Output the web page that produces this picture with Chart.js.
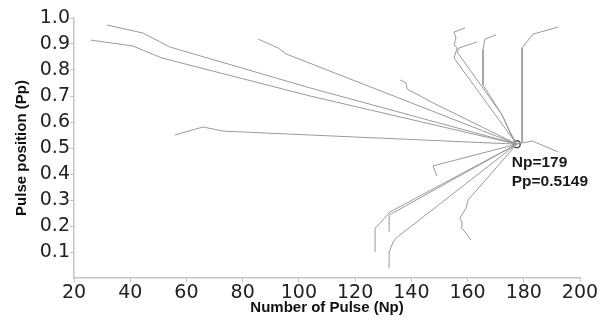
<!DOCTYPE html>
<html>
<head>
<meta charset="utf-8">
<script src="https://cdn.jsdelivr.net/npm/chart.js@4/dist/chart.umd.min.js"></script>
<style>
	html, body { margin: 0; padding: 0; background: #fff; }
	#wrap { width: 607px; height: 320px; }
</style>
</head>
<body>
<div id="wrap"><canvas id="pulseChart" width="607" height="320"></canvas></div>
<script>
// axis ticks
const xTicks = [20, 40, 60, 80, 100, 120, 140, 160, 180, 200];
const yTicks = [0.1, 0.2, 0.3, 0.4, 0.5, 0.6, 0.7, 0.8, 0.9, 1.0];

// convergence point (Np, Pp)
const peak = [177.5, 0.5149];
const peakLabel = ['Np=179', 'Pp=0.5149'];

// trajectories [Np, Pp], each ends at the peak
const pathA = [[31.7, 0.973], [44.6, 0.942], [54.2, 0.888], [104, 0.731]];
const pathB = [[26.0, 0.915], [41.0, 0.892], [51.3, 0.846], [104, 0.70]];
const pathC = [[85.5, 0.919], [92.6, 0.885], [95.4, 0.862]];
const pathD = [[136.0, 0.762], [138.1, 0.75], [138.5, 0.727], [147.8, 0.673]];
const pathG = [[55.9, 0.55], [65.9, 0.581], [73.0, 0.565], [104, 0.55]];
const pathH = [[159.1, 0.962], [155.2, 0.946], [155.9, 0.923], [155.2, 0.896], [156.3, 0.885], [155.2, 0.846], [175.1, 0.55]];
const pathI = [[163.4, 0.908], [157.0, 0.885], [156.3, 0.869], [172.3, 0.627], [175.1, 0.558]];
const pathJ = [[170.1, 0.935], [166.2, 0.919], [165.5, 0.877], [165.5, 0.742], [172.3, 0.627], [175.1, 0.562]];
const pathK = [[192.2, 0.965], [183.3, 0.938], [179.4, 0.885], [179.4, 0.523]];
const pathL = [[192.2, 0.485], [183.0, 0.527]];
const pathM = [[149.1, 0.392], [147.7, 0.431]];
const pathN = [[127.1, 0.10], [127.1, 0.192], [128.9, 0.212], [132.4, 0.254]];
const pathO = [[132.1, 0.177], [132.1, 0.242]];
const pathP = [[132.1, 0.038], [132.1, 0.10], [133.5, 0.138], [134.6, 0.154]];
const pathQ = [[161.2, 0.146], [157.7, 0.196], [158.0, 0.215], [157.3, 0.231], [159.5, 0.269], [160.2, 0.30]];

const paths = [pathA, pathB, pathC, pathD, pathG, pathH, pathI, pathJ, pathK, pathL, pathM, pathN, pathO, pathP, pathQ];

const toPts = arr => arr.map(p => ({ x: p[0], y: p[1] }));

const datasets = paths.map(p => ({
	data: toPts(p.concat([peak])),
	showLine: true,
	borderColor: '#9a9a9a',
	borderWidth: 1,
	pointRadius: 0,
	tension: 0
}));
datasets.push({
	data: toPts([peak]),
	pointRadius: 3.5,
	pointBorderWidth: 1.5,
	pointBorderColor: '#555',
	pointBackgroundColor: 'rgba(0,0,0,0)'
});

const peakText = {
	id: 'peakText',
	afterDatasetsDraw(chart) {
		const ctx = chart.ctx;
		const px = chart.scales.x.getPixelForValue(peak[0]);
		const py = chart.scales.y.getPixelForValue(peak[1]);
		ctx.save();
		ctx.fillStyle = '#1a1a1a';
		ctx.font = 'bold 15.5px "Liberation Sans", Arial, sans-serif';
		ctx.textAlign = 'left';
		ctx.textBaseline = 'alphabetic';
		ctx.fillText(peakLabel[0], px - 5, py + 23);
		ctx.fillText(peakLabel[1], px - 5, py + 42);
		ctx.restore();
	}
};

const tickFont = { family: 'DejaVu Sans', size: 19 };
const titleFont = { family: 'Liberation Sans', size: 15, weight: 'bold' };

new Chart(document.getElementById('pulseChart'), {
	type: 'scatter',
	data: { datasets: datasets },
	options: {
		responsive: false,
		animation: false,
		devicePixelRatio: 1,
		layout: { padding: { left: 0, right: 27, top: 18, bottom: 0 } },
		plugins: {
			legend: { display: false },
			tooltip: { enabled: false }
		},
		scales: {
			x: {
				type: 'linear',
				min: 20,
				max: 200,
				afterBuildTicks: s => { s.ticks = xTicks.map(v => ({ value: v })); },
				afterFit: s => { s.height = 42; },
				ticks: {
					font: tickFont,
					color: '#222',
					padding: 0,
					maxRotation: 0,
					autoSkip: false,
					callback: v => String(v)
				},
				grid: { drawOnChartArea: false, color: '#c4c4c4', tickLength: 4 },
				border: { color: '#c4c4c4', width: 1.5 },
				title: {
					display: true,
					text: 'Number of Pulse (Np)',
					font: titleFont,
					color: '#111',
					padding: { top: 0, bottom: 3 }
				}
			},
			y: {
				type: 'linear',
				min: 0,
				max: 1,
				afterBuildTicks: s => { s.ticks = yTicks.map(v => ({ value: v })); },
				afterFit: s => { s.width = 74; },
				ticks: {
					font: tickFont,
					color: '#222',
					padding: 0,
					autoSkip: false,
					callback: v => v.toFixed(1)
				},
				grid: { drawOnChartArea: false, color: '#c4c4c4', tickLength: 4 },
				border: { color: '#c4c4c4', width: 1.5 },
				title: {
					display: true,
					text: 'Pulse position (Pp)',
					font: titleFont,
					color: '#111',
					padding: { top: 13, bottom: 0 }
				}
			}
		}
	},
	plugins: [peakText]
});
</script>
</body>
</html>
